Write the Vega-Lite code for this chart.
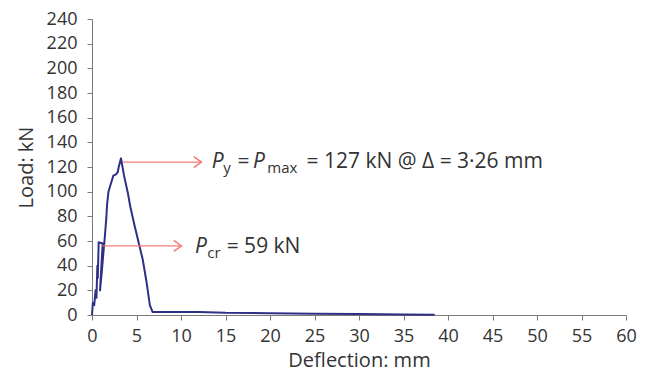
{
  "$schema": "https://vega.github.io/schema/vega-lite/v6.json",
  "width": 534,
  "height": 296,
  "autosize": {"type": "none"},
  "padding": {"left": 92, "top": 19, "right": 25, "bottom": 57},
  "background": "white",
  "config": {
    "view": {"stroke": null},
    "font": "Open Sans",
    "axis": {
      "grid": false,
      "domainColor": "#7a7a7a",
      "tickColor": "#7a7a7a",
      "tickSize": 5,
      "labelFont": "Open Sans",
      "labelFontSize": 18,
      "labelColor": "#333333",
      "labelOverlap": false,
      "titleFont": "Open Sans",
      "titleFontSize": 20,
      "titleFontWeight": "normal",
      "titleColor": "#333333"
    }
  },
  "datasets": {
    "curve": [
      {"seq": 0, "d": 0.0, "load": 0},
      {"seq": 1, "d": 0.1, "load": 10},
      {"seq": 2, "d": 0.25, "load": 8},
      {"seq": 3, "d": 0.4, "load": 20},
      {"seq": 4, "d": 0.5, "load": 14},
      {"seq": 5, "d": 0.6, "load": 40},
      {"seq": 6, "d": 0.65, "load": 30},
      {"seq": 7, "d": 0.75, "load": 59},
      {"seq": 8, "d": 1.2, "load": 58},
      {"seq": 9, "d": 0.9, "load": 20},
      {"seq": 10, "d": 1.1, "load": 35},
      {"seq": 11, "d": 1.3, "load": 52},
      {"seq": 12, "d": 1.45, "load": 64},
      {"seq": 13, "d": 1.6, "load": 78},
      {"seq": 14, "d": 1.7, "load": 90},
      {"seq": 15, "d": 1.85, "load": 100},
      {"seq": 16, "d": 2.1, "load": 106},
      {"seq": 17, "d": 2.4, "load": 113},
      {"seq": 18, "d": 2.7, "load": 114},
      {"seq": 19, "d": 2.9, "load": 116},
      {"seq": 20, "d": 3.0, "load": 120},
      {"seq": 21, "d": 3.26, "load": 127},
      {"seq": 22, "d": 3.6, "load": 113},
      {"seq": 23, "d": 4.0, "load": 100},
      {"seq": 24, "d": 4.3, "load": 88},
      {"seq": 25, "d": 4.8, "load": 72},
      {"seq": 26, "d": 5.3, "load": 57},
      {"seq": 27, "d": 5.7, "load": 45},
      {"seq": 28, "d": 6.1, "load": 28},
      {"seq": 29, "d": 6.5, "load": 8},
      {"seq": 30, "d": 6.8, "load": 2.5},
      {"seq": 31, "d": 12, "load": 2.5},
      {"seq": 32, "d": 15, "load": 1.8},
      {"seq": 33, "d": 20, "load": 1.5},
      {"seq": 34, "d": 25, "load": 1.0},
      {"seq": 35, "d": 30, "load": 0.8},
      {"seq": 36, "d": 35, "load": 0.5},
      {"seq": 37, "d": 38.5, "load": 0.3}
    ],
    "one": [{"n": 1}]
  },
  "layer": [
    {
      "data": {"name": "curve"},
      "mark": {"type": "line", "color": "#2e3087", "strokeWidth": 2, "strokeJoin": "round"},
      "encoding": {
        "x": {"field": "d", "type": "quantitative", "title": "Deflection: mm",
              "scale": {"domain": [0, 60], "nice": false},
              "axis": {"values": [0,5,10,15,20,25,30,35,40,45,50,55,60], "labelOverlap": false, "tickCount": 13, "labelPadding": 7, "titlePadding": 5, "labelFlush": false}},
        "y": {"field": "load", "type": "quantitative", "title": "Load: kN",
              "scale": {"domain": [0, 240], "nice": false},
              "axis": {"values": [0,20,40,60,80,100,120,140,160,180,200,220,240], "labelOverlap": false, "tickCount": 13, "labelPadding": 10, "titlePadding": 10, "labelFlush": false}},
        "order": {"field": "seq", "type": "quantitative"}
      }
    },
    {
      "data": {"name": "one"},
      "layer": [
        {
          "mark": {"type": "rule", "color": "#f27c76", "strokeWidth": 1.2},
          "encoding": {"x": {"datum": 3.5}, "x2": {"datum": 12.3}, "y": {"datum": 124}}
        },
        {
          "mark": {"type": "point", "shape": "M-1.4,-1L0,0L-1.4,1", "filled": false, "color": "#f27c76", "strokeWidth": 1.5, "size": 121, "opacity": 1},
          "encoding": {"x": {"datum": 12.3}, "y": {"datum": 124}}
        },
        {
          "mark": {"type": "rule", "color": "#f27c76", "strokeWidth": 1.2},
          "encoding": {"x": {"datum": 1.2}, "x2": {"datum": 10.05}, "y": {"datum": 56}}
        },
        {
          "mark": {"type": "point", "shape": "M-1.4,-1L0,0L-1.4,1", "filled": false, "color": "#f27c76", "strokeWidth": 1.5, "size": 121, "opacity": 1},
          "encoding": {"x": {"datum": 10.05}, "y": {"datum": 56}}
        },
        {
          "mark": {"type": "text", "text": "P", "fontStyle": "italic", "fontSize": 21, "align": "left", "baseline": "alphabetic", "color": "#333333"},
          "encoding": {"x": {"datum": 13.45}, "y": {"datum": 118.9}}
        },
        {
          "mark": {"type": "text", "text": "y", "fontSize": 15, "align": "left", "baseline": "alphabetic", "color": "#333333"},
          "encoding": {"x": {"datum": 14.75}, "y": {"datum": 114.9}}
        },
        {
          "mark": {"type": "text", "text": "=", "fontSize": 21, "align": "left", "baseline": "alphabetic", "color": "#333333"},
          "encoding": {"x": {"datum": 16.35}, "y": {"datum": 118.9}}
        },
        {
          "mark": {"type": "text", "text": "P", "fontStyle": "italic", "fontSize": 21, "align": "left", "baseline": "alphabetic", "color": "#333333"},
          "encoding": {"x": {"datum": 18.1}, "y": {"datum": 118.9}}
        },
        {
          "mark": {"type": "text", "text": "max", "fontSize": 15, "align": "left", "baseline": "alphabetic", "color": "#333333"},
          "encoding": {"x": {"datum": 19.7}, "y": {"datum": 114.9}}
        },
        {
          "mark": {"type": "text", "text": "= 127 kN @ Δ = 3·26 mm", "fontSize": 21, "align": "left", "baseline": "alphabetic", "color": "#333333"},
          "encoding": {"x": {"datum": 24.1}, "y": {"datum": 118.9}}
        },
        {
          "mark": {"type": "text", "text": "P", "fontStyle": "italic", "fontSize": 21, "align": "left", "baseline": "alphabetic", "color": "#333333"},
          "encoding": {"x": {"datum": 11.57}, "y": {"datum": 50.3}}
        },
        {
          "mark": {"type": "text", "text": "cr", "fontSize": 15, "align": "left", "baseline": "alphabetic", "color": "#333333"},
          "encoding": {"x": {"datum": 12.95}, "y": {"datum": 46.3}}
        },
        {
          "mark": {"type": "text", "text": "= 59 kN", "fontSize": 21, "align": "left", "baseline": "alphabetic", "color": "#333333"},
          "encoding": {"x": {"datum": 15.13}, "y": {"datum": 50.3}}
        }
      ]
    }
  ]
}
